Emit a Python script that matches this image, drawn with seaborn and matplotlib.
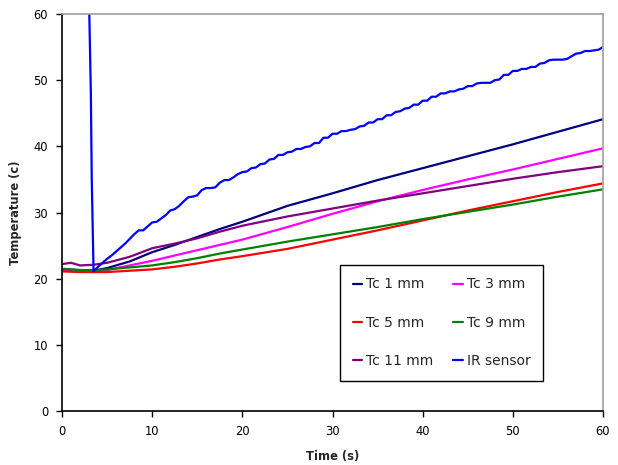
import numpy as np
import pandas as pd
import matplotlib
matplotlib.use("Agg")
import matplotlib.pyplot as plt
from matplotlib.lines import Line2D
import seaborn as sns

# ---- data ----
tc_time = [0, 1, 2, 3.5, 5, 7.5, 10, 12.5, 15, 17.5, 20, 25, 30, 35, 40, 45, 50, 55, 60]
tc1 = [21.4, 21.35, 21.3, 21.2, 21.6, 22.6, 24.0, 25.1, 26.3, 27.5, 28.6, 31.0, 32.9, 34.9, 36.7, 38.5, 40.3, 42.2, 44.1]
tc3 = [21.2, 21.15, 21.1, 21.0, 21.3, 22.0, 22.7, 23.5, 24.3, 25.1, 25.9, 27.8, 29.8, 31.7, 33.4, 35.0, 36.5, 38.1, 39.7]
tc5 = [21.1, 21.05, 21.0, 21.0, 21.0, 21.2, 21.4, 21.8, 22.3, 22.9, 23.4, 24.5, 25.9, 27.3, 28.8, 30.3, 31.7, 33.1, 34.4]
tc9 = [21.5, 21.4, 21.3, 21.3, 21.4, 21.7, 22.0, 22.5, 23.1, 23.8, 24.4, 25.6, 26.7, 27.8, 29.0, 30.1, 31.2, 32.4, 33.5]
tc11 = [22.2, 22.4, 22.0, 22.1, 22.4, 23.3, 24.6, 25.3, 26.1, 27.1, 28.0, 29.4, 30.6, 31.8, 32.9, 34.0, 35.1, 36.1, 37.0]

ir_time = [3.0, 3.2, 3.3, 3.5] + list(np.arange(4, 60.5, 0.5))
ir_temp = [62.0, 48.0, 35.0, 21.1,
           21.8, 22.4, 23.0, 23.5, 24.1, 24.7, 25.3, 26.0, 26.7, 27.3,
           27.3, 27.9, 28.5, 28.6, 29.1, 29.6, 30.3, 30.5, 31.0, 31.7,
           32.3, 32.4, 32.6, 33.4, 33.7, 33.7, 33.8, 34.5, 34.9, 34.9,
           35.3, 35.8, 36.1, 36.2, 36.7, 36.8, 37.3, 37.4, 38.0, 38.1,
           38.7, 38.7, 39.1, 39.2, 39.6, 39.6, 39.9, 40.0, 40.5, 40.5,
           41.3, 41.3, 41.9, 41.9, 42.3, 42.3, 42.5, 42.6, 43.0, 43.1,
           43.6, 43.6, 44.1, 44.1, 44.7, 44.7, 45.2, 45.3, 45.7, 45.8,
           46.3, 46.3, 46.9, 46.9, 47.5, 47.5, 48.0, 48.0, 48.3, 48.3,
           48.6, 48.7, 49.1, 49.1, 49.5, 49.6, 49.6, 49.6, 50.0, 50.1,
           50.8, 50.8, 51.4, 51.4, 51.7, 51.7, 52.0, 52.0, 52.5, 52.6,
           53.0, 53.1, 53.1, 53.1, 53.2, 53.6, 54.0, 54.1, 54.4, 54.4,
           54.5, 54.6, 55.0]

series_names = ["Tc 1 mm", "Tc 3 mm", "Tc 5 mm", "Tc 9 mm", "Tc 11 mm", "IR sensor"]
colors = ["#000080", "#FF00FF", "#FF0000", "#008000", "#800080", "#0000FF"]
x_ticks = [0, 10, 20, 30, 40, 50, 60]
y_ticks = [0, 10, 20, 30, 40, 50, 60]

# ---- build long-form table ----
frames = []
for name, vals in zip(series_names[:5], [tc1, tc3, tc5, tc9, tc11]):
    frames.append(pd.DataFrame({"Time": tc_time, "Temp": vals, "Series": name}))
frames.append(pd.DataFrame({"Time": ir_time, "Temp": ir_temp, "Series": "IR sensor"}))
df = pd.concat(frames, ignore_index=True)

sns.set_style("white")
plt.rcParams["font.family"] = ["DejaVu Sans"]

fig = plt.figure(figsize=(6.18, 4.65), dpi=100)
ax = fig.add_axes([62/618, 1-411/465, 541/618, 397/465])

sns.lineplot(data=df, x="Time", y="Temp", hue="Series", hue_order=series_names,
             palette=dict(zip(series_names, colors)), estimator=None, linewidth=1.6,
             legend=False, ax=ax)

ax.set_xlim(0, 60)
ax.set_ylim(0, 60)
ax.set_xticks(x_ticks)
ax.set_yticks(y_ticks)
ax.tick_params(axis="both", direction="out", length=4, width=1, labelsize=8.3,
               colors="black", bottom=True, left=True, pad=6)
ax.set_xlabel("Time (s)", fontsize=8.3, fontweight="bold", labelpad=9)
ax.set_ylabel("Temperature (c)", fontsize=8.3, fontweight="bold", labelpad=8)

for s in ["left", "bottom"]:
    ax.spines[s].set_color("black")
    ax.spines[s].set_linewidth(1.2)
for s in ["top", "right"]:
    ax.spines[s].set_color("#A0A0A0")
    ax.spines[s].set_linewidth(1.2)

# legend, filled row by row like the reference
order = [0, 2, 4, 1, 3, 5]
handles = [Line2D([], [], color=colors[i], linewidth=1.6) for i in order]
labels = [series_names[i] for i in order]
leg = ax.legend(handles, labels, ncol=2, loc="upper left",
                bbox_to_anchor=(0.514, 0.368), frameon=True, fancybox=False,
                framealpha=1, edgecolor="black", fontsize=10,
                handlelength=0.7, handletextpad=0.3, columnspacing=1.4,
                labelspacing=1.75, borderpad=0.9, borderaxespad=0)
leg.get_frame().set_linewidth(1.0)

fig.savefig("out.png", dpi=100)
